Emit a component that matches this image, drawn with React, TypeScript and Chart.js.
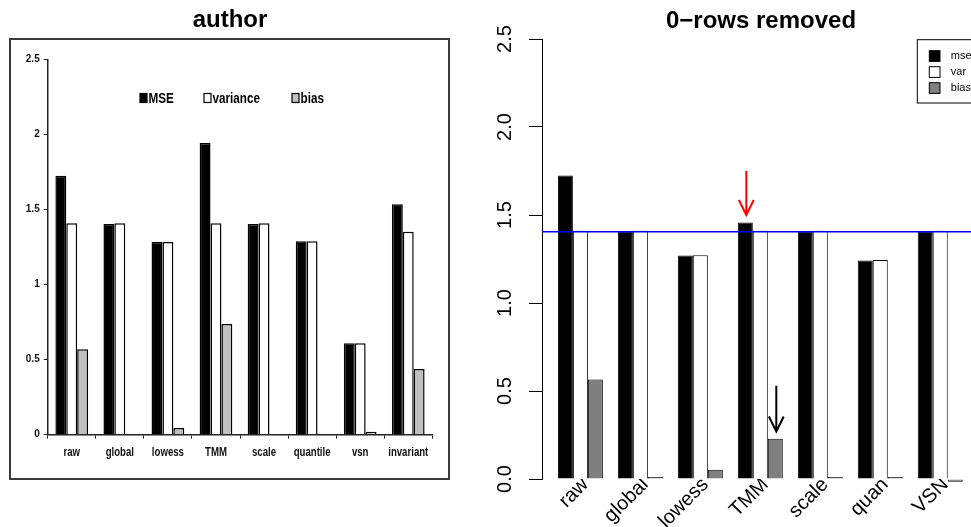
import React, { useEffect, useRef } from "react";
import { Chart, registerables } from "chart.js";

Chart.register(...registerables);

// ---------- left panel ("author") ----------
const leftCategories = ["raw", "global", "lowess", "TMM", "scale", "quantile", "vsn", "invariant"];
const leftMSE = [1.727, 1.405, 1.285, 1.945, 1.405, 1.289, 0.609, 1.536];
const leftVariance = [1.409, 1.41, 1.285, 1.409, 1.41, 1.29, 0.61, 1.353];
const leftBias = [0.569, 0, 0.045, 0.738, 0.005, 0.003, 0.02, 0.438];
const leftTickLabels = ["0", "0.5", "1", "1.5", "2", "2.5"];
const leftLegend = ["MSE", "variance", "bias"];
const leftTitle = "author";

// ---------- right panel ("0-rows removed") ----------
const rightCategories = ["raw", "global", "lowess", "TMM", "scale", "quan", "VSN"];
const rightMSE = [1.725, 1.405, 1.27, 1.458, 1.405, 1.242, 1.405];
const rightVar = [1.41, 1.41, 1.272, 1.41, 1.41, 1.245, 1.41];
const rightBias = [0.566, 0, 0.053, 0.229, 0.004, 0, -0.015];
const rightTickLabels = ["0.0", "0.5", "1.0", "1.5", "2.0", "2.5"];
const rightLegend = ["mse", "var", "bias"];
const rightTitle = "0\u2212rows removed";
const referenceLine = 1.405;
const redArrow = { from: 1.75, to: 1.5 }; // above TMM mse bar
const blackArrow = { from: 0.53, to: 0.27 }; // above TMM bias bar

const SANS = '"Liberation Sans", Arial, Helvetica, sans-serif';

function drawArrow(ctx: CanvasRenderingContext2D, x: number, y0: number, y1: number, color: string) {
  ctx.save();
  ctx.strokeStyle = color;
  ctx.lineWidth = 2;
  ctx.beginPath();
  ctx.moveTo(x, y0);
  ctx.lineTo(x, y1);
  ctx.moveTo(x - 7.4, y1 - 15);
  ctx.lineTo(x, y1);
  ctx.lineTo(x + 7.4, y1 - 15);
  ctx.stroke();
  ctx.restore();
}

function squashedText(ctx: CanvasRenderingContext2D, text: string, x: number, y: number, sx: number, align: "left" | "center") {
  ctx.save();
  ctx.translate(x, y);
  ctx.scale(sx, 1);
  ctx.textAlign = align;
  ctx.fillText(text, 0, 0);
  ctx.restore();
}

const leftDecor = {
  id: "leftDecor",
  afterDraw(chart: any) {
    const ctx: CanvasRenderingContext2D = chart.ctx;
    ctx.save();
    // title
    ctx.fillStyle = "#000";
    ctx.font = `bold 24px ${SANS}`;
    ctx.textAlign = "center";
    ctx.textBaseline = "middle";
    ctx.fillText(leftTitle, 230, 20);
    // image frame
    ctx.strokeStyle = "#3a3a3a";
    ctx.lineWidth = 2;
    ctx.strokeRect(10, 39, 439, 440);
    // category labels (narrow, as in the pasted image)
    const xs = chart.scales.x;
    ctx.font = `bold 13px ${SANS}`;
    ctx.fillStyle = "#111";
    ctx.textBaseline = "middle";
    chart.data.labels.forEach((lab: string, i: number) => {
      squashedText(ctx, lab, xs.getPixelForTick(i), 452, 0.74, "center");
    });
    // legend row
    const fills = ["#000", "#fff", "#c0c0c0"];
    const starts = [140, 204, 292];
    ctx.font = `bold 15px ${SANS}`;
    const y = 98;
    leftLegend.forEach((t, i) => {
      const x = starts[i];
      ctx.fillStyle = fills[i];
      ctx.fillRect(x, y - 4.5, 7, 9);
      ctx.strokeStyle = "#000";
      ctx.lineWidth = 1.2;
      ctx.strokeRect(x, y - 4.5, 7, 9);
      ctx.fillStyle = "#000";
      squashedText(ctx, t, x + 8.5, y + 0.5, 0.78, "left");
    });
    ctx.restore();
  },
};

const rightDecor = {
  id: "rightDecor",
  afterDatasetsDraw(chart: any) {
    const ctx: CanvasRenderingContext2D = chart.ctx;
    const ys = chart.scales.y;
    const area = chart.chartArea;
    ctx.save();
    // horizontal reference line
    const yl = ys.getPixelForValue(referenceLine);
    ctx.strokeStyle = "#0000ff";
    ctx.lineWidth = 1.5;
    ctx.beginPath();
    ctx.moveTo(area.left, yl);
    ctx.lineTo(chart.width, yl);
    ctx.stroke();
    // arrows
    const tmm = rightCategories.indexOf("TMM");
    const xr = chart.getDatasetMeta(0).data[tmm].x + 1;
    const xb = chart.getDatasetMeta(2).data[tmm].x + 1;
    drawArrow(ctx, xr, ys.getPixelForValue(redArrow.from), ys.getPixelForValue(redArrow.to), "#ff0000");
    drawArrow(ctx, xb, ys.getPixelForValue(blackArrow.from), ys.getPixelForValue(blackArrow.to), "#000");
    ctx.restore();
  },
  afterDraw(chart: any) {
    const ctx: CanvasRenderingContext2D = chart.ctx;
    ctx.save();
    // title
    ctx.fillStyle = "#000";
    ctx.font = `bold 24px ${SANS}`;
    ctx.textAlign = "center";
    ctx.textBaseline = "middle";
    ctx.fillText(rightTitle, 291, 21);
    // legend box (top right)
    const bx = 447.3;
    const by = 39.7;
    ctx.fillStyle = "#fff";
    ctx.fillRect(bx, by, 140, 63.3);
    ctx.strokeStyle = "#000";
    ctx.lineWidth = 1;
    ctx.strokeRect(bx, by, 140, 63.3);
    const fills = ["#000", "#fff", "#7f7f7f"];
    ctx.font = `11px ${SANS}`;
    ctx.textAlign = "left";
    rightLegend.forEach((t, i) => {
      const cy = 56 + i * 16;
      ctx.fillStyle = fills[i];
      ctx.fillRect(bx + 12, cy - 5.3, 10.7, 10.7);
      ctx.strokeStyle = "#000";
      ctx.strokeRect(bx + 12, cy - 5.3, 10.7, 10.7);
      ctx.fillStyle = "#000";
      ctx.fillText(t, bx + 33.5, cy);
    });
    ctx.restore();
  },
};

export default function App() {
  const leftRef = useRef<HTMLCanvasElement>(null);
  const rightRef = useRef<HTMLCanvasElement>(null);

  useEffect(() => {
    const left = new Chart(leftRef.current as HTMLCanvasElement, {
      type: "bar",
      data: {
        labels: leftCategories,
        datasets: [
          { label: leftLegend[0], data: leftMSE, backgroundColor: "#000", borderColor: "#000", borderWidth: 1.5 },
          { label: leftLegend[1], data: leftVariance, backgroundColor: "#fff", borderColor: "#000", borderWidth: 1.5 },
          { label: leftLegend[2], data: leftBias, backgroundColor: "#c0c0c0", borderColor: "#000", borderWidth: 1.5 },
        ],
      },
      options: {
        responsive: false,
        animation: false,
        devicePixelRatio: 1,
        layout: { padding: { left: 0, top: 59.7, right: 37.7, bottom: 52.3 } },
        datasets: { bar: { categoryPercentage: 0.68, barPercentage: 1 } },
        plugins: { legend: { display: false }, tooltip: { enabled: false }, title: { display: false } },
        scales: {
          x: {
            type: "category",
            offset: true,
            grid: { offset: true, drawOnChartArea: false, drawTicks: true, tickLength: 4, color: "#222", lineWidth: 1 },
            border: { display: true, color: "#222", width: 1.5 },
            ticks: { display: false, autoSkip: false },
            afterFit: (s: any) => { s.height = 40; },
          },
          y: {
            min: 0,
            max: 2.5,
            grid: { drawOnChartArea: false, drawTicks: true, tickLength: 4, color: "#222" },
            border: { display: true, color: "#222", width: 1.5 },
            ticks: {
              stepSize: 0.5,
              color: "#111",
              padding: 4,
              font: { family: SANS, size: 10, weight: "bold" },
              callback: (_v: any, i: number) => leftTickLabels[i],
            },
            afterFit: (s: any) => { s.width = 47.7; },
          },
        },
      },
      plugins: [leftDecor],
    } as any);

    const toPoints = (arr: number[]) => arr.map((v, i) => ({ x: i, y: v }));
    const right = new Chart(rightRef.current as HTMLCanvasElement, {
      type: "bar",
      data: {
        datasets: [
          { label: rightLegend[0], data: toPoints(rightMSE), backgroundColor: "#000", borderColor: "#000", borderWidth: 1 },
          { label: rightLegend[1], data: toPoints(rightVar), backgroundColor: "#fff", borderColor: "#000", borderWidth: 1 },
          { label: rightLegend[2], data: toPoints(rightBias), backgroundColor: "#7f7f7f", borderColor: "#000", borderWidth: 1, minBarLength: 2 },
        ],
      },
      options: {
        responsive: false,
        animation: false,
        devicePixelRatio: 1,
        layout: { padding: { left: 0, top: 39, right: 28.4, bottom: 0 } },
        datasets: { bar: { categoryPercentage: 0.75, barPercentage: 1, clip: false } },
        plugins: { legend: { display: false }, tooltip: { enabled: false }, title: { display: false } },
        scales: {
          x: {
            type: "linear",
            min: -0.64,
            max: 7.69,
            offset: false,
            bounds: "data",
            grid: { display: false, offset: false },
            border: { display: false },
            afterBuildTicks: (s: any) => { s.ticks = rightCategories.map((_c, i) => ({ value: i })); },
            ticks: {
              color: "#000",
              font: { family: SANS, size: 20 },
              minRotation: 45,
              maxRotation: 45,
              autoSkip: false,
              includeBounds: false,
              padding: -14,
              labelOffset: 5,
              callback: (_v: any, i: number) => rightCategories[i],
            },
            afterFit: (s: any) => { s.height = 48; },
          },
          y: {
            min: 0,
            max: 2.5,
            grid: { drawOnChartArea: false, drawTicks: true, tickLength: 13, color: "#000", lineWidth: 1 },
            border: { display: true, color: "#000", width: 1 },
            ticks: {
              stepSize: 0.5,
              color: "#000",
              padding: 10,
              minRotation: 90,
              maxRotation: 90,
              crossAlign: "center",
              font: { family: SANS, size: 20 },
              callback: (_v: any, i: number) => rightTickLabels[i],
            },
            afterFit: (s: any) => { s.width = 72; },
          },
        },
      },
      plugins: [rightDecor],
    } as any);

    return () => {
      left.destroy();
      right.destroy();
    };
  }, []);

  return (
    <div style={{ position: "absolute", left: 0, top: 0, width: 971, height: 527, overflow: "hidden", background: "#fff" }}>
      <canvas ref={leftRef} width={470} height={527} style={{ position: "absolute", left: 0, top: 0, width: 470, height: 527 }} />
      <canvas ref={rightRef} width={600} height={527} style={{ position: "absolute", left: 470, top: 0, width: 600, height: 527 }} />
    </div>
  );
}
